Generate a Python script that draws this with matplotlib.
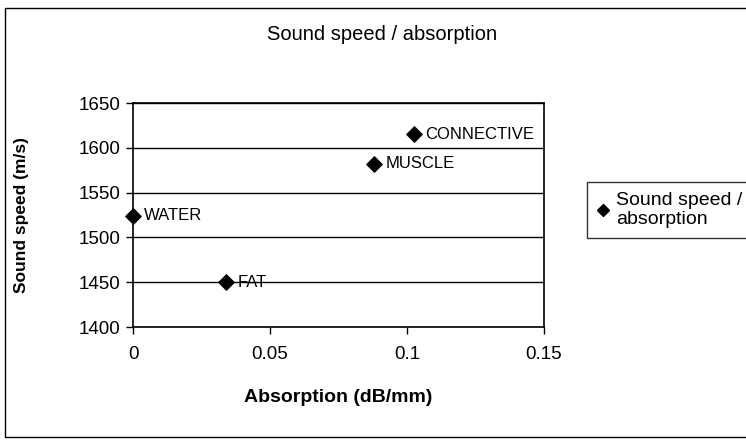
import matplotlib.pyplot as plt
from matplotlib.patches import Rectangle
from matplotlib.lines import Line2D

plt.rcParams['font.family'] = ['Liberation Sans', 'DejaVu Sans']

# tissue data
tissues = ['WATER', 'FAT', 'MUSCLE', 'CONNECTIVE']
absorption = [0.0, 0.034, 0.088, 0.1025]
sound_speed = [1524, 1450, 1582, 1615]

x_ticks = [0, 0.05, 0.1, 0.15]
x_ticklabels = ['0', '0.05', '0.1', '0.15']
y_ticks = [1400, 1450, 1500, 1550, 1600, 1650]

fig = plt.figure(figsize=(7.46, 4.4), dpi=100)
ax = fig.add_axes([0.1783, 0.2568, 0.5509, 0.5091])

# chart border
fig.patches.append(Rectangle((5 / 746, 3 / 440), 760 / 746, 429 / 440,
                             transform=fig.transFigure, fill=False,
                             edgecolor='black', linewidth=1.0))

ax.scatter(absorption, sound_speed, marker='D', s=60, color='black',
           zorder=3, clip_on=False)
for name, x, y in zip(tissues, absorption, sound_speed):
    ax.annotate(name, (x, y), xytext=(8, 0), textcoords='offset points',
                va='center', ha='left', fontsize=12)

ax.set_xlim(0, 0.15)
ax.set_ylim(1400, 1650)
ax.set_xticks(x_ticks)
ax.set_xticklabels(x_ticklabels)
ax.set_yticks(y_ticks)
ax.tick_params(axis='both', direction='out', length=5, width=1,
               labelsize=13.5, colors='black')
ax.tick_params(axis='x', pad=9)
ax.tick_params(axis='y', pad=4)

ax.yaxis.grid(True, color='black', linewidth=1.0)
ax.set_axisbelow(True)
for s in ax.spines.values():
    s.set_linewidth(1.2)
    s.set_color('black')

ax.set_xlabel('Absorption (dB/mm)', fontsize=14, fontweight='bold')
ax.set_ylabel('Sound speed (m/s)', fontsize=12.5, fontweight='bold')
ax.xaxis.set_label_coords(0.5, -62 / 224)
ax.yaxis.set_label_coords(-104 / 411, 0.5)

fig.text(382 / 746, 1 - 34 / 440, 'Sound speed / absorption',
         ha='center', va='center', fontsize=14.5)

handle = Line2D([], [], marker='D', color='black', linestyle='none',
                markersize=6)
fig.legend([handle], ['Sound speed /\nabsorption'], loc='upper left',
           bbox_to_anchor=(587 / 746, 1 - 182 / 440), frameon=True,
           fancybox=False, edgecolor='black', fontsize=14,
           handlelength=0.6, handletextpad=0.4, borderpad=0.5,
           borderaxespad=0, labelspacing=0.2)
fig.legends[0].get_frame().set_linewidth(1.0)

fig.savefig('out.png', dpi=100)
